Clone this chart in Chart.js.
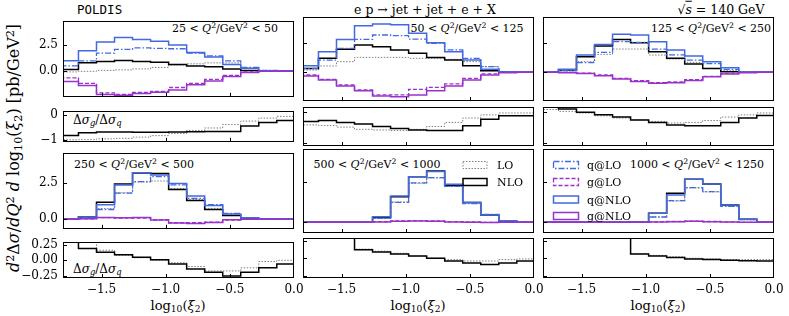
<!DOCTYPE html>
<html><head><meta charset="utf-8">
<script src="https://cdn.jsdelivr.net/npm/chart.js@4.4.1/dist/chart.umd.min.js"></script>
<style>
html,body{margin:0;padding:0;background:#fff;}
#wrap{position:relative;width:789px;height:316px;overflow:hidden;background:#fff;}
canvas{position:absolute;}
.t{position:absolute;white-space:nowrap;font-family:'DejaVu Serif',serif;color:#000;line-height:1;}
.c{transform:translate(-50%,-50%);}
.l{transform:translate(0,-50%);}
sup,sub{font-size:70%;line-height:0;}
sup{vertical-align:0.45em;} sub{vertical-align:-0.25em;}
#ylab{transform:translate(-50%,-50%) rotate(-90deg);}
.ov{text-decoration:overline;}
</style></head><body><div id="wrap">
<svg id="leg" width="789" height="316" style="position:absolute;left:0;top:0;z-index:5">
  <rect x="463" y="161.5" width="24" height="7" fill="none" stroke="#808080" stroke-width="1" stroke-dasharray="1.5,1.5"/>
  <rect x="463" y="178.5" width="24" height="7" fill="none" stroke="#000" stroke-width="1.5"/>
  <rect x="553.5" y="161.5" width="25" height="7" fill="none" stroke="#4169e1" stroke-width="1.3" stroke-dasharray="6,2,1.5,2"/>
  <rect x="553.5" y="178.5" width="25" height="7" fill="none" stroke="#9932cc" stroke-width="1.3" stroke-dasharray="4,2"/>
  <rect x="553.5" y="196" width="25" height="7" fill="none" stroke="#4169e1" stroke-width="1.5"/>
  <rect x="553.5" y="212.5" width="25" height="7" fill="none" stroke="#9932cc" stroke-width="1.5"/>
</svg>
<div class="t l" style="left:77px;top:10px;font-family:'DejaVu Sans Mono',monospace;font-size:12.5px;">POLDIS</div>
<div class="t c" style="left:425px;top:10px;font-size:12.5px;">e p → jet + jet + e + X</div>
<div class="t c" style="left:721px;top:10px;font-size:12.5px;">√<i class="ov">s</i> = 140 GeV</div>
<div class="t c" style="left:225px;top:28px;font-size:11px;">25 &lt; <i>Q</i><sup>2</sup>/GeV<sup>2</sup> &lt; 50</div>
<div class="t c" style="left:467px;top:28px;font-size:11px;">50 &lt; <i>Q</i><sup>2</sup>/GeV<sup>2</sup> &lt; 125</div>
<div class="t c" style="left:711px;top:28px;font-size:11px;">125 &lt; <i>Q</i><sup>2</sup>/GeV<sup>2</sup> &lt; 250</div>
<div class="t c" style="left:134px;top:164px;font-size:11px;">250 &lt; <i>Q</i><sup>2</sup>/GeV<sup>2</sup> &lt; 500</div>
<div class="t c" style="left:377px;top:164px;font-size:11px;">500 &lt; <i>Q</i><sup>2</sup>/GeV<sup>2</sup> &lt; 1000</div>
<div class="t c" style="left:697px;top:164px;font-size:11px;">1000 &lt; <i>Q</i><sup>2</sup>/GeV<sup>2</sup> &lt; 1250</div>
<div class="t l" style="left:73px;top:120px;font-size:12px;">Δ<i>σ</i><sub><i>g</i></sub>/Δ<i>σ</i><sub><i>q</i></sub></div>
<div class="t l" style="left:73px;top:269px;font-size:12px;">Δ<i>σ</i><sub><i>g</i></sub>/Δ<i>σ</i><sub><i>q</i></sub></div>
<div class="t c" style="left:178px;top:305px;font-size:13px;">log<sub>10</sub>(<i>ξ</i><sub>2</sub>)</div>
<div class="t c" style="left:418px;top:305px;font-size:13px;">log<sub>10</sub>(<i>ξ</i><sub>2</sub>)</div>
<div class="t c" style="left:658px;top:305px;font-size:13px;">log<sub>10</sub>(<i>ξ</i><sub>2</sub>)</div>
<div class="t" id="ylab" style="left:14px;top:148px;font-size:16px;"><i>d</i><sup>2</sup>Δ<i>σ</i>/<i>dQ</i><sup>2</sup> <i>d</i> log<sub>10</sub>(<i>ξ</i><sub>2</sub>) [pb/GeV<sup>2</sup>]</div>
<div class="t l" style="left:497px;top:165px;font-size:11px;z-index:6">LO</div>
<div class="t l" style="left:497px;top:182px;font-size:11px;z-index:6">NLO</div>
<div class="t l" style="left:587px;top:165px;font-size:11px;z-index:6">q@LO</div>
<div class="t l" style="left:587px;top:182px;font-size:11px;z-index:6">g@LO</div>
<div class="t l" style="left:587px;top:199.5px;font-size:11px;z-index:6">q@NLO</div>
<div class="t l" style="left:587px;top:216px;font-size:11px;z-index:6">g@NLO</div>
</div>
<script>
// ---- bin edges and ticks ----
const EDGES = [-1.82, -1.6795, -1.539, -1.3985, -1.258, -1.1175, -0.977, -0.8365, -0.696, -0.5555, -0.415, -0.2745, -0.134, 0.0065];
const X_TICKS = [-1.5, -1.0, -0.5, 0.0];
const Y_TICKS_MAIN = [0, 2.5];
const Y_TICKS_R1 = [-1, 0];
const Y_TICKS_R2 = [-0.25, 0, 0.25];

// ---- 25 < Q2 < 50 ----
const A_qNLO = [0.98, 1.93, 2.79, 3.22, 3.02, 2.84, 2.5, 1.78, 1.35, 0.63, 0.26, 0.0, 0.0];
const A_qLO  = [0.49, 0.98, 1.72, 2.07, 2.21, 2.16, 2.13, 1.72, 1.44, 0.98, 0.34, 0.06, 0.0];
const A_NLO  = [0.14, 0.78, 0.92, 1.0, 0.92, 0.83, 0.63, 0.49, 0.4, 0.2, 0.06, 0.0, 0.0];
const A_LO   = [-0.09, -0.03, 0.06, 0.11, 0.2, 0.34, 0.57, 0.69, 0.78, 0.78, 0.26, 0.06, 0.0];
const A_gNLO = [-1.0, -1.38, -2.24, -2.33, -2.16, -2.04, -1.81, -1.32, -0.95, -0.52, -0.14, -0.03, 0.0];
const A_gLO  = [-0.66, -1.18, -2.1, -2.24, -2.04, -1.95, -1.58, -1.18, -0.8, -0.43, -0.09, 0.0, 0.0];
const A_rNLO = [-0.82, -0.71, -0.68, -0.68, -0.69, -0.69, -0.68, -0.67, -0.66, -0.66, -0.44, -0.3, -0.22];
const A_rLO  = [-1.0, -0.99, -0.96, -0.94, -0.89, -0.83, -0.74, -0.62, -0.52, -0.38, -0.24, -0.12, -0.05];

// ---- 50 < Q2 < 125 ----
const B_qNLO = [0.57, 1.78, 2.84, 4.02, 4.17, 4.1, 3.36, 2.56, 1.78, 1.06, 0.26, 0.0, 0.0];
const B_qLO  = [0.34, 1.06, 2.07, 2.84, 3.22, 3.16, 2.87, 2.5, 1.93, 1.21, 0.49, 0.06, 0.0];
const B_NLO  = [0.34, 1.21, 1.98, 2.36, 2.21, 1.93, 1.64, 1.29, 1.06, 0.57, 0.14, 0.0, 0.0];
const B_LO   = [0.2, 0.55, 0.92, 1.29, 1.29, 1.29, 1.21, 1.21, 1.12, 0.92, 0.49, 0.06, 0.0];
const B_gNLO = [-0.32, -0.66, -1.18, -1.58, -2.04, -2.1, -1.95, -1.58, -1.18, -0.66, -0.23, -0.03, 0.0];
const B_gLO  = [-0.23, -0.6, -1.09, -1.52, -1.95, -1.95, -1.47, -1.29, -1.0, -0.52, -0.14, 0.0, 0.0];
const B_rNLO = [-0.3, -0.27, -0.33, -0.38, -0.46, -0.52, -0.57, -0.59, -0.59, -0.44, -0.23, -0.12, -0.12];
const B_rLO  = [-0.41, -0.43, -0.48, -0.55, -0.57, -0.59, -0.55, -0.46, -0.33, -0.19, -0.09, -0.03, -0.03];

// ---- 125 < Q2 < 250 ----
const C_qNLO = [0.0, 0.26, 1.49, 2.41, 3.28, 3.22, 2.64, 1.93, 1.41, 0.92, 0.4, 0.0, 0.0];
const C_qLO  = [0.0, 0.14, 0.83, 1.72, 2.64, 2.59, 2.0, 1.5, 1.05, 0.75, 0.26, 0.02, 0.0];
const C_NLO  = [0.0, 0.2, 1.35, 2.27, 2.84, 2.56, 1.78, 1.21, 0.72, 0.34, 0.06, 0.0, 0.0];
const C_LO   = [0.0, 0.11, 0.92, 1.55, 2.01, 2.01, 1.49, 1.15, 0.86, 0.34, 0.14, 0.0, 0.0];
const C_gNLO = [0.0, -0.03, -0.1, -0.3, -0.57, -0.8, -0.95, -0.9, -0.7, -0.38, -0.14, -0.03, 0.0];
const C_gLO  = [0.0, 0.0, -0.08, -0.23, -0.52, -0.72, -0.89, -0.82, -0.62, -0.34, -0.09, 0.0, 0.0];
const C_rNLO = [0.15, 0.1, -0.01, -0.09, -0.16, -0.25, -0.33, -0.41, -0.44, -0.44, -0.33, -0.19, -0.11];
const C_rLO  = [0.08, 0.02, -0.03, -0.12, -0.19, -0.25, -0.3, -0.35, -0.33, -0.27, -0.16, -0.09, -0.03];

// ---- 250 < Q2 < 500 ----
const D_qNLO = [0.0, 0.15, 1.0, 2.38, 3.23, 3.06, 2.48, 1.6, 0.94, 0.35, 0.08, 0.02, 0.0];
const D_qLO  = [0.0, 0.1, 0.67, 1.81, 2.6, 2.96, 2.38, 1.44, 1.0, 0.4, 0.1, 0.02, 0.0];
const D_NLO  = [0.0, 0.15, 1.17, 2.44, 3.2, 3.17, 2.06, 1.29, 0.67, 0.25, 0.06, 0.0, 0.0];
const D_LO   = [0.0, 0.08, 0.73, 1.83, 2.58, 2.65, 2.13, 1.35, 0.75, 0.25, 0.06, 0.0, 0.0];
const D_gNLO = [0.0, 0.02, 0.12, 0.1, 0.12, -0.06, -0.27, -0.31, -0.23, -0.04, 0.0, 0.0, 0.0];
const D_gLO  = [0.0, 0.02, 0.1, 0.08, 0.08, -0.04, -0.25, -0.25, -0.2, -0.06, 0.0, 0.0, 0.0];
const D_rNLO = [5, 0.19, 0.13, 0.09, 0.05, 0.01, -0.06, -0.14, -0.19, -0.25, -0.19, -0.12, -0.06];
const D_rLO  = [null, 5, 0.16, 0.08, 0.04, 0.0, -0.04, -0.1, -0.17, -0.17, -0.12, -0.02, 0.0];

// ---- 500 < Q2 < 1000 ----
const E_qNLO = [0, 0, 0, 0, 0.35, 1.65, 2.85, 3.17, 2.38, 1.23, 0.46, 0.08, 0];
const E_qLO  = [0, 0, 0, 0, 0.25, 1.25, 2.46, 2.79, 2.25, 1.17, 0.5, 0.08, 0];
const E_NLO  = [0, 0, 0, 0, 0.3, 1.6, 2.85, 3.2, 2.3, 1.23, 0.46, 0.06, 0];
const E_LO   = [0, 0, 0, 0, 0.25, 1.27, 2.44, 2.77, 2.25, 1.2, 0.48, 0.06, 0];
const E_gNLO = [0, 0, 0, 0, 0.02, 0.06, 0.08, 0.06, 0.02, 0.0, -0.02, 0, 0];
const E_gLO  = [0, 0, 0, 0, 0.04, 0.08, 0.1, 0.08, 0.04, 0.02, 0.0, 0, 0];
const E_rNLO = [null, null, 5, 0.12, 0.09, 0.06, 0.03, 0.0, -0.04, -0.07, -0.09, -0.07, -0.04];
const E_rLO  = [null, null, 5, 0.13, 0.1, 0.07, 0.03, 0.0, -0.02, -0.04, -0.04, -0.02, -0.01];

// ---- 1000 < Q2 < 1250 ----
const F_qNLO = [0, 0, 0, 0, 0, 0.04, 0.56, 1.71, 2.69, 2.4, 1.08, 0.19, 0];
const F_qLO  = [0, 0, 0, 0, 0, 0.03, 0.33, 1.35, 2.17, 1.92, 1.0, 0.17, 0];
const F_NLO  = [0, 0, 0, 0, 0, 0.04, 0.56, 1.81, 2.69, 2.4, 1.08, 0.19, 0];
const F_LO   = [0, 0, 0, 0, 0, 0.03, 0.33, 1.33, 2.15, 1.9, 1.0, 0.15, 0];
const F_gNLO = [0, 0, 0, 0, 0, 0.0, 0.02, 0.04, 0.06, 0.04, 0.02, 0, 0];
const F_gLO  = [0, 0, 0, 0, 0, 0.0, 0.03, 0.05, 0.07, 0.05, 0.02, 0, 0];
const F_rNLO = [null, null, null, null, 5, 0.06, 0.03, 0.01, -0.01, -0.02, -0.03, -0.035, -0.04];
const F_rLO  = [null, null, null, null, 5, 0.065, 0.04, 0.02, 0.0, -0.01, -0.02, -0.02, -0.02];

const BLUE = '#4169e1', PURPLE = '#9932cc', GRAY = '#808080';
const STY = {
  LO:   {borderColor: GRAY, borderWidth: 1, borderDash: [1.5, 1.5], order: 6},
  NLO:  {borderColor: '#000', borderWidth: 1.5, order: 5},
  qLO:  {borderColor: BLUE, borderWidth: 1.3, borderDash: [6, 2, 1.5, 2], order: 4},
  gLO:  {borderColor: PURPLE, borderWidth: 1.3, borderDash: [4, 2], order: 3},
  qNLO: {borderColor: BLUE, borderWidth: 1.5, order: 2},
  gNLO: {borderColor: PURPLE, borderWidth: 1.5, order: 1}
};

function steps(vals) {
  const p = EDGES.slice(0, vals.length).map((e, i) => ({x: e, y: vals[i]}));
  p.push({x: EDGES[vals.length], y: vals[vals.length - 1]});
  return p;
}
function ds(vals, key) {
  return Object.assign({data: steps(vals), stepped: 'before', pointRadius: 0, fill: false, tension: 0}, STY[key]);
}
function fmt(v, dec) {
  const s = Math.abs(v).toFixed(dec);
  return (v < -1e-9 ? '\u2212' : '') + s;
}

const framePlugin = {
  id: 'frame',
  afterDatasetsDraw(chart, args, opts) {
    const {ctx, chartArea: a} = chart;
    const x = chart.scales.x, y = chart.scales.y;
    ctx.save();
    ctx.strokeStyle = '#000';
    ctx.lineWidth = 1;
    ctx.beginPath();
    X_TICKS.forEach(v => {
      if (v <= -1.8 || v >= 0) return;
      const px = Math.round(x.getPixelForValue(v)) + 0.5;
      ctx.moveTo(px, a.bottom); ctx.lineTo(px, a.bottom - 4);
    });
    opts.yTicks.forEach(v => {
      const py = Math.round(y.getPixelForValue(v)) + 0.5;
      if (py <= a.top + 1 || py >= a.bottom - 1) return;
      ctx.moveTo(a.left, py); ctx.lineTo(a.left + 4, py);
    });
    ctx.stroke();
    ctx.strokeRect(Math.round(a.left) + 0.5, Math.round(a.top) + 0.5, Math.round(a.right - a.left) - 1, Math.round(a.bottom - a.top) - 1);
    ctx.restore();
  }
};

const COLS_X = [63, 303, 543];
const PLOT_W = 231;
const ROWS = {
  m1: {y: 17, h: 84, min: -2.47, max: 4.77, ticks: Y_TICKS_MAIN, dec: 1, bottom: false},
  r1: {y: 107, h: 39, min: -1.08, max: 0.16, ticks: Y_TICKS_R1, dec: 0, bottom: false},
  m2: {y: 149, h: 84, min: -0.67, max: 4.58, ticks: Y_TICKS_MAIN, dec: 1, bottom: false},
  r2: {y: 238, h: 40, min: -0.283, max: 0.289, ticks: Y_TICKS_R2, dec: 2, bottom: true}
};
const PADL = 60, PADT = 8, PADR = 15;

function panel(col, rowKey, sets) {
  const r = ROWS[rowKey];
  const padB = r.bottom ? 26 : 8;
  const cv = document.createElement('canvas');
  const W = PADL + PLOT_W + PADR, H = PADT + r.h + padB;
  cv.width = W; cv.height = H;
  cv.style.left = (COLS_X[col] - PADL) + 'px';
  cv.style.top = (r.y - PADT) + 'px';
  cv.style.width = W + 'px'; cv.style.height = H + 'px';
  document.getElementById('wrap').appendChild(cv);
  const font = {family: "'DejaVu Serif', serif", size: 12};
  new Chart(cv, {
    type: 'line',
    data: {datasets: sets},
    options: {
      responsive: false, animation: false, devicePixelRatio: 1,
      layout: {padding: {top: PADT, right: PADR, left: 0, bottom: 0}},
      plugins: {legend: {display: false}, tooltip: {enabled: false}, frame: {yTicks: r.ticks}},
      elements: {point: {radius: 0}},
      scales: {
        x: {
          type: 'linear', min: -1.8, max: 0,
          grid: {display: false, drawTicks: false}, border: {display: false},
          afterBuildTicks: s => { s.ticks = X_TICKS.map(v => ({value: v})); },
          afterFit: s => { s.height = padB; },
          ticks: {display: r.bottom, autoSkip: false, maxRotation: 0, padding: 5, color: '#000', font: font,
                  callback: v => fmt(v, 1)}
        },
        y: {
          type: 'linear', min: r.min, max: r.max,
          grid: {display: false, drawTicks: false}, border: {display: false},
          afterBuildTicks: s => { s.ticks = r.ticks.map(v => ({value: v})); },
          afterFit: s => { s.width = PADL; },
          ticks: {display: col === 0, autoSkip: false, padding: 5, color: '#000', font: font,
                  callback: v => fmt(v, r.dec)}
        }
      }
    },
    plugins: [framePlugin]
  });
}

function mainSets(LO, NLO, qLO, gLO, qNLO, gNLO) {
  return [ds(LO, 'LO'), ds(NLO, 'NLO'), ds(qLO, 'qLO'), ds(gLO, 'gLO'), ds(qNLO, 'qNLO'), ds(gNLO, 'gNLO')];
}
function ratioSets(rLO, rNLO) { return [ds(rLO, 'LO'), ds(rNLO, 'NLO')]; }

panel(0, 'm1', mainSets(A_LO, A_NLO, A_qLO, A_gLO, A_qNLO, A_gNLO));
panel(1, 'm1', mainSets(B_LO, B_NLO, B_qLO, B_gLO, B_qNLO, B_gNLO));
panel(2, 'm1', mainSets(C_LO, C_NLO, C_qLO, C_gLO, C_qNLO, C_gNLO));
panel(0, 'r1', ratioSets(A_rLO, A_rNLO));
panel(1, 'r1', ratioSets(B_rLO, B_rNLO));
panel(2, 'r1', ratioSets(C_rLO, C_rNLO));
panel(0, 'm2', mainSets(D_LO, D_NLO, D_qLO, D_gLO, D_qNLO, D_gNLO));
panel(1, 'm2', mainSets(E_LO, E_NLO, E_qLO, E_gLO, E_qNLO, E_gNLO));
panel(2, 'm2', mainSets(F_LO, F_NLO, F_qLO, F_gLO, F_qNLO, F_gNLO));
panel(0, 'r2', ratioSets(D_rLO, D_rNLO));
panel(1, 'r2', ratioSets(E_rLO, E_rNLO));
panel(2, 'r2', ratioSets(F_rLO, F_rNLO));
</script>
</body></html>
